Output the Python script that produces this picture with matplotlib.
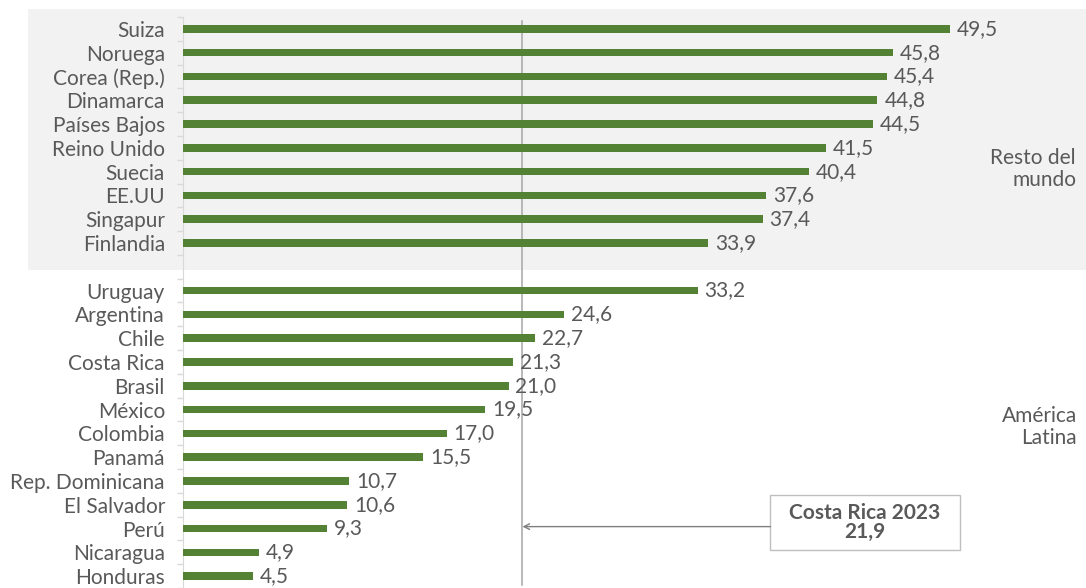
import matplotlib
matplotlib.use("Agg")
import matplotlib.pyplot as plt
from matplotlib.patches import Rectangle

# Resto del mundo (top block) and América Latina (bottom block)
world_names = ['Suiza', 'Noruega', 'Corea (Rep.)', 'Dinamarca', 'Países Bajos',
               'Reino Unido', 'Suecia', 'EE.UU', 'Singapur', 'Finlandia']
world_values = [49.5, 45.8, 45.4, 44.8, 44.5, 41.5, 40.4, 37.6, 37.4, 33.9]

latam_names = ['Uruguay', 'Argentina', 'Chile', 'Costa Rica', 'Brasil', 'México',
               'Colombia', 'Panamá', 'Rep. Dominicana', 'El Salvador', 'Perú',
               'Nicaragua', 'Honduras']
latam_values = [33.2, 24.6, 22.7, 21.3, 21.0, 19.5, 17.0, 15.5, 10.7, 10.6, 9.3, 4.9, 4.5]

cr_2023 = 21.9

GREEN = '#548235'
TEXT = '#595959'
FS = 15

plt.rcParams['font.family'] = ['Lato', 'DejaVu Sans']

W, H = 1086, 588
fig = plt.figure(figsize=(W / 100, H / 100), dpi=100)

# row layout: one empty row separates the two groups
names = world_names + [''] + latam_names
values = world_values + [None] + latam_values
ypos = list(range(len(names)))

row0_px, step_px = 29, 23.9
left_px = 183
ax = fig.add_axes([left_px / W, 0, (W - left_px) / W, 1])
ax.set_facecolor('none')
ax.set_ylim((H - row0_px) / step_px, -row0_px / step_px)
ax.set_xlim(0, (W - left_px) / 15.5)

# shaded block behind the "Resto del mundo" group
ax.add_patch(Rectangle((28 / W, 1 - 270 / H), (W - 28) / W, (270 - 9) / H,
                       transform=fig.transFigure, facecolor='#f2f2f2',
                       edgecolor='none', zorder=0, clip_on=False))

for y, v in zip(ypos, values):
    if v is None:
        continue
    ax.barh(y, v, height=0.32, color=GREEN, zorder=3)
    ax.annotate(f'{v:.1f}'.replace('.', ','), (v, y), xytext=(5, 0),
                textcoords='offset points', va='center', ha='left',
                fontsize=FS, color=TEXT, zorder=4)

# Costa Rica 2023 reference line
ax.plot([cr_2023, cr_2023], [-0.35, ax.get_ylim()[0]], color='#a6a6a6', lw=1.1, zorder=2)

box_x0, box_x1 = 37.9, 50.1
box_y0, box_y1 = 19.58, 21.92
ax.add_patch(Rectangle((box_x0, box_y0), box_x1 - box_x0, box_y1 - box_y0,
                       facecolor='white', edgecolor='#bfbfbf', lw=1, zorder=4))
ax.annotate('', xy=(cr_2023, 20.92), xytext=(box_x0, 20.92),
            arrowprops=dict(arrowstyle='->', color='#7f7f7f', lw=1,
                            shrinkA=0, shrinkB=0), zorder=4)
ax.text((box_x0 + box_x1) / 2, (box_y0 + box_y1) / 2,
        f'Costa Rica 2023\n{cr_2023:.1f}'.replace('.', ','),
        ha='center', va='center', fontsize=FS, fontweight='bold', color=TEXT,
        linespacing=0.9, zorder=5)

fig.text(1076 / W, 1 - 169 / H, 'Resto del\nmundo', ha='right', va='center',
         fontsize=FS, color=TEXT, linespacing=1.1)
fig.text(1077 / W, 1 - 427 / H, 'América\nLatina', ha='right', va='center',
         fontsize=FS, color=TEXT, linespacing=1.1)

ax.set_yticks(ypos)
ax.set_yticklabels(names, fontsize=FS, color=TEXT)
ax.set_yticks([y + 0.5 for y in [-1] + ypos], minor=True)
ax.tick_params(axis='y', which='major', length=0, pad=13)
ax.tick_params(axis='y', which='minor', length=4, color='#d9d9d9', width=1)
ax.set_xticks([])
for s in ['top', 'right', 'bottom']:
    ax.spines[s].set_visible(False)
ax.spines['left'].set_color('#d9d9d9')
ax.spines['left'].set_bounds(-0.5, ax.get_ylim()[0])

fig.savefig('out.png', dpi=100)
